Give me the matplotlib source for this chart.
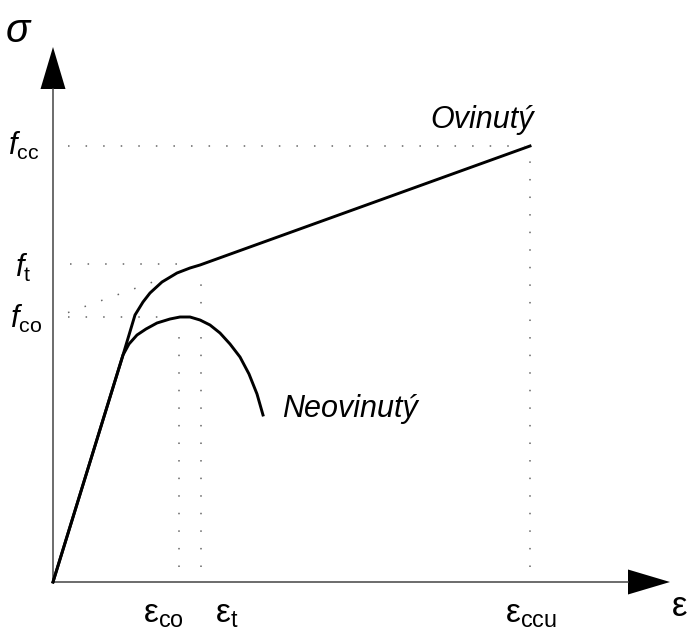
import numpy as np
import matplotlib.pyplot as plt

plt.rcParams['mathtext.fontset'] = 'custom'
plt.rcParams['mathtext.rm'] = 'Liberation Sans'
plt.rcParams['mathtext.it'] = 'Liberation Sans:italic'

# unconfined concrete (neovinuty) - strain / stress, arbitrary units
eps_unconf = [0, 70, 76, 84, 93, 104, 117, 127, 137, 147, 157, 167, 177, 187, 196, 204, 210]
sig_unconf = [0, 227, 238, 247, 253, 259, 263, 265, 265, 262, 257, 249, 238, 225, 208, 188, 167]

# confined concrete (ovinuty)
eps_conf = [0, 70, 82, 90, 97, 109, 124, 137, 147, 477]
sig_conf = [0, 227, 267, 280, 289, 300, 309, 314, 317, 436]

# characteristic values
f_co, f_t, f_cc = 265, 318, 436
e_co, e_t, e_ccu = 126, 148, 477

fig = plt.figure(figsize=(6.92, 6.30), dpi=100)
ax = fig.add_axes([0, 0, 1, 1])
ax.set_xlim(-53, 639)
ax.set_ylim(-48, 582)
ax.axis('off')

# axes with arrow heads
x_end, y_end = 617, 535
head, hw = 42, 12.5
ax.plot([0, x_end - head], [0, 0], color='#444', lw=1.1)
ax.plot([0, 0], [0, y_end - head], color='#444', lw=1.1)
ax.fill([x_end - head, x_end, x_end - head], [-hw, 0, hw], color='k', lw=0)
ax.fill([-hw, 0, hw], [y_end - head, y_end, y_end - head], color='k', lw=0)

# dotted guide lines
dot = dict(color='#666', lw=1.1, ls=(0, (1, 10.5)), dash_capstyle='butt')
ax.plot([15, e_ccu - 5], [f_cc, f_cc], **dot)
ax.plot([17, 129], [f_t, f_t], **dot)
ax.plot([15, 110], [f_co, f_co], **dot)
s = (sig_conf[-1] - sig_conf[-2]) / (eps_conf[-1] - eps_conf[-2])
ax.plot([15, 106], [sig_conf[-2] - s * (eps_conf[-2] - 15), sig_conf[-2] - s * (eps_conf[-2] - 106)], **dot)
ax.plot([e_co, e_co], [15, 248], **dot)
ax.plot([e_t, e_t], [15, 300], **dot)
ax.plot([e_ccu, e_ccu], [15, f_cc - 8], **dot)

# stress-strain curves
ax.plot(eps_unconf, sig_unconf, color='k', lw=2.1, solid_joinstyle='round')
ax.plot(eps_conf, sig_conf, color='k', lw=2.1, solid_joinstyle='round')

# labels
ax.text(377, 454, 'Ovinutý', fontsize=22, family='Liberation Sans', style='italic', va='baseline')
ax.text(229, 165, 'Neovinutý', fontsize=22, family='Liberation Sans', style='italic', va='baseline')

ax.text(-35, 551, 'σ', fontsize=29, family='Liberation Sans', style='italic', ha='center', va='center')
ax.text(634, -25, 'ε', fontsize=25, family='Liberation Sans', ha='right', va='center')

ax.text(-45, 427, r'$f_{\mathrm{cc}}$', fontsize=22, va='baseline')
ax.text(-38, 305, r'$f_{\mathrm{t}}$', fontsize=22, va='baseline')
ax.text(-43, 254, r'$f_{\mathrm{co}}$', fontsize=22, va='baseline')
ax.text(90, -41, r'$\mathrm{ε}_{\mathrm{co}}$', fontsize=24, va='baseline')
ax.text(162, -41, r'$\mathrm{ε}_{\mathrm{t}}$', fontsize=24, va='baseline')
ax.text(452, -41, r'$\mathrm{ε}_{\mathrm{ccu}}$', fontsize=24, va='baseline')

fig.savefig('out.png', dpi=100)
